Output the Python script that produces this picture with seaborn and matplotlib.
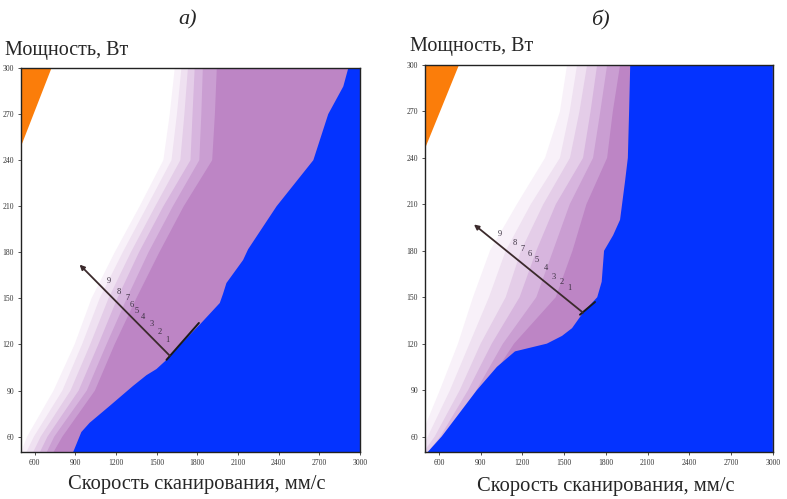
import matplotlib
matplotlib.use("Agg")
import matplotlib.pyplot as plt
import seaborn as sns

# --------------------------------------------------------------------------
# power levels [W] at which the region boundaries were read off the picture
POWER = [50, 60, 90, 120, 150, 180, 210, 240, 270, 300]

# panel a) - scan speed [mm/s] of each band edge at POWER
A_WHITE = [500, 545, 740, 895, 1020, 1191, 1375, 1550, 1597, 1634]
A_C1 = [540, 595, 805, 950, 1080, 1250, 1430, 1610, 1650, 1683]
A_C2 = [590, 645, 865, 1010, 1145, 1310, 1490, 1675, 1705, 1731]
A_C3 = [640, 695, 925, 1070, 1210, 1370, 1550, 1750, 1765, 1781]
A_C4 = [690, 745, 985, 1130, 1280, 1440, 1620, 1815, 1830, 1841]
A_C5 = [740, 805, 1045, 1190, 1350, 1520, 1700, 1910, 1930, 1944]
A_BLUE_P = [50, 63, 69, 80, 93, 100, 104, 110, 124, 133, 147, 153, 160, 175, 182, 210, 240, 270, 288, 300]
A_BLUE_X = [885, 945, 1006, 1154, 1326, 1425, 1499, 1573, 1720, 1819, 1966, 1990, 2015, 2138, 2175, 2385, 2656, 2766, 2877, 2914]
A_ORANGE_X = [500, 725, 500]
A_ORANGE_P = [300, 300, 249]
A_ARROW = [(1597, 112.7), (932, 172)]
A_EDGE_X = [1573, 1812]
A_EDGE_P = [110, 134]
A_LABEL_X = [1147, 1220, 1287, 1316, 1353, 1398, 1464, 1523, 1582]
A_LABEL_P = [161.5, 154, 150, 146, 142, 138, 133.5, 128, 123]

# panel б)
B_WHITE = [420, 470, 607, 737, 845, 967, 1160, 1363, 1470, 1521]
B_C1 = [460, 520, 680, 820, 960, 1080, 1260, 1470, 1540, 1593]
B_C2 = [490, 570, 750, 900, 1080, 1190, 1350, 1542, 1610, 1665]
B_C3 = [520, 610, 810, 980, 1180, 1300, 1440, 1636, 1690, 1737]
B_C4 = [540, 650, 870, 1060, 1300, 1420, 1540, 1708, 1760, 1809]
B_C5 = [560, 690, 920, 1140, 1440, 1560, 1660, 1809, 1850, 1902]
B_BLUE_P = [50, 60, 90, 105, 115, 120, 125, 130, 140, 150, 160, 180, 190, 200, 225, 240, 270, 300]
B_BLUE_X = [520, 620, 873, 1017, 1147, 1376, 1485, 1557, 1636, 1738, 1770, 1787, 1852, 1902, 1938, 1958, 1967, 1975]
B_ORANGE_X = [500, 744, 500]
B_ORANGE_P = [300, 300, 246]
B_ARROW = [(1636, 140), (852, 197)]
B_EDGE_X = [1614, 1722]
B_EDGE_P = [138.7, 146.9]
B_LABEL_X = [1039, 1147, 1204, 1255, 1305, 1370, 1427, 1485, 1535]
B_LABEL_P = [191, 185, 181, 178, 174, 169, 163, 160, 156]

LABELS = ["9", "8", "7", "6", "5", "4", "3", "2", "1"]
X_TICKS = [600, 900, 1200, 1500, 1800, 2100, 2400, 2700, 3000]
Y_TICKS = [60, 90, 120, 150, 180, 210, 240, 270, 300]
# --------------------------------------------------------------------------

BAND_COLORS = ["#f8f1f9", "#efe1f1", "#e4cde8", "#d7b5de", "#ca9ed2", "#bd85c5"]
BLUE = "#0433ff"
ORANGE = "#fb7d0a"
XLIM = (500, 3000)
YLIM = (50, 300)

sns.set_theme(style="white")
plt.rcParams["font.family"] = ["Liberation Serif", "DejaVu Serif"]


def fill_right(ax, xs, ps, color):
    """fill everything to the right of a boundary curve"""
    px = list(xs) + [XLIM[1], XLIM[1]]
    py = list(ps) + [ps[-1], ps[0]]
    ax.fill(px, py, color=color, lw=0)


def draw_panel(ax, bands, blue_x, blue_p, orange_x, orange_p, arrow, edge_x, edge_p, lab_x, lab_p):
    for curve, col in zip(bands, BAND_COLORS):
        fill_right(ax, curve, POWER, col)
    fill_right(ax, blue_x, blue_p, BLUE)
    ax.fill(orange_x, orange_p, color=ORANGE, lw=0)

    sns.lineplot(x=edge_x, y=edge_p, ax=ax, color="#1a1a1a", lw=1.4)
    ax.annotate("", xy=arrow[1], xytext=arrow[0],
                arrowprops=dict(arrowstyle="-|>", color="#3b2a2c", lw=1.3,
                                mutation_scale=7, shrinkA=0, shrinkB=0))
    for x, p, t in zip(lab_x, lab_p, LABELS):
        ax.text(x, p, t, fontsize=6, color="#3a3040", ha="center", va="center")

    ax.set_xlim(*XLIM)
    ax.set_ylim(*YLIM)
    ax.set_xticks(X_TICKS)
    ax.set_yticks(Y_TICKS)
    ax.tick_params(axis="both", labelsize=5.5, colors="#333333", length=2, width=0.6,
                   direction="out", pad=3, bottom=True, left=True)
    for s in ax.spines.values():
        s.set_color("#222222")
        s.set_linewidth(1.0)
    ax.set_xlabel("")
    ax.set_ylabel("")


fig = plt.figure(figsize=(7.87, 4.99), dpi=100)
ax_a = fig.add_axes([0.0267, 0.0942, 0.4307, 0.7695])
ax_b = fig.add_axes([0.540, 0.0942, 0.442, 0.7755])

draw_panel(ax_a, [A_WHITE, A_C1, A_C2, A_C3, A_C4, A_C5], A_BLUE_X, A_BLUE_P,
           A_ORANGE_X, A_ORANGE_P, A_ARROW, A_EDGE_X, A_EDGE_P, A_LABEL_X, A_LABEL_P)
draw_panel(ax_b, [B_WHITE, B_C1, B_C2, B_C3, B_C4, B_C5], B_BLUE_X, B_BLUE_P,
           B_ORANGE_X, B_ORANGE_P, B_ARROW, B_EDGE_X, B_EDGE_P, B_LABEL_X, B_LABEL_P)

fig.text(188 / 787, 1 - 20 / 499, "а)", fontsize=16, style="italic", ha="center", va="center")
fig.text(600 / 787, 1 - 20 / 499, "б)", fontsize=16, style="italic", ha="center", va="center")
fig.text(5 / 787, 1 - 50 / 499, "Мощность, Вт", fontsize=14.5, ha="left", va="center")
fig.text(410 / 787, 1 - 47 / 499, "Мощность, Вт", fontsize=14.5, ha="left", va="center")
fig.text(197 / 787, 1 - 485 / 499, "Скорость сканирования, мм/с", fontsize=14.8, ha="center", va="center")
fig.text(606 / 787, 1 - 486 / 499, "Скорость сканирования, мм/с", fontsize=14.8, ha="center", va="center")

fig.savefig("out.png", dpi=100)
plt.close(fig)
